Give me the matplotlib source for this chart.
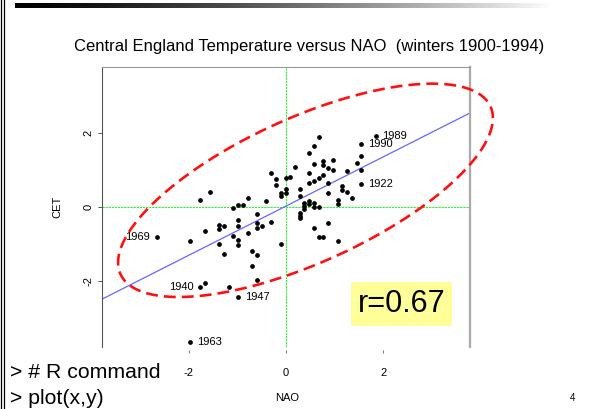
import numpy as np
import matplotlib
matplotlib.use("Agg")
import matplotlib.pyplot as plt

plt.rcParams['font.family'] = ['Liberation Sans', 'DejaVu Sans']

# winter NAO index and CET anomaly
nao = [-2.65, -1.97, -1.97, -1.76, -1.57, -1.67, -1.76, -1.67, -1.38, -1.28,
       -1.38, -1.38, -1.28, -1.18, -1.09, -0.99, -0.89, -1.09, -0.99, -0.99,
       -0.99, -0.99, -0.99, -0.79, -0.79, -0.70, -0.70, -0.60, -0.60, -0.60,
       -0.50, -0.60, -0.60, -0.41, -0.30, -0.30, -0.21, -0.21, -0.11, -0.11,
       -0.11, -0.01, -0.01, -0.01, 0.09, 0.19, 0.29, 0.29, 0.29, 0.29,
       0.29, 0.38, 0.38, 0.38, 0.48, 0.48, 0.48, 0.48, 0.48, 0.57,
       0.57, 0.57, 0.57, 0.57, 0.57, 0.67, 0.67, 0.67, 0.67, 0.76,
       0.76, 0.76, 0.76, 0.87, 0.87, 0.87, 0.87, 0.96, 0.96, 1.06,
       1.06, 1.06, 1.15, 1.15, 1.26, 1.26, 1.35, 1.45, 1.54, 1.54,
       1.54, 1.54, 1.84]
cet = [-0.80, -0.91, -3.64, 0.20, 0.41, -0.66, -2.15, -2.06, -0.49, -0.52,
       -0.60, -0.99, -1.27, -2.15, -0.03, 0.06, 0.06, -0.78, -0.36, -0.52,
       -0.89, -1.02, -2.43, 0.24, -0.69, -1.18, -1.59, -0.19, -0.44, -0.56,
       -0.50, -1.29, -1.98, 0.17, 0.93, -0.41, 0.76, 0.59, 0.39, 0.30,
       -1.00, 0.78, 0.49, 0.38, 0.82, 1.07, 0.48, 0.30, -0.17, -0.24,
       -0.30, 0.12, 0.03, -0.06, 1.47, 0.92, 0.66, 0.16, 0.07, 1.64,
       1.16, 0.70, 0.12, 0.01, -0.57, 1.88, 0.79, 0.01, -0.81, 1.24,
       1.13, 0.86, -0.80, 1.04, 0.64, 0.38, -0.44, 1.27, 1.00, 0.20,
       0.08, -0.91, 0.57, 0.47, 0.96, 0.41, 0.23, 1.19, 1.71, 1.37,
       0.99, 0.62, 1.93]

# labelled winters: (year, nao, cet, side)
labelled = [("1969", -2.65, -0.80, "left"), ("1963", -1.97, -3.64, "right"),
            ("1940", -1.76, -2.15, "left"), ("1947", -0.99, -2.43, "right"),
            ("1989", 1.84, 1.93, "right"), ("1990", 1.54, 1.71, "right"),
            ("1922", 1.54, 0.62, "right")]

fit_intercept = 0.025
fit_slope = 0.665

# hand drawn ellipse: centre and two conjugate half-diameters
ell_centre = (0.4, 0.45)
ell_u = (3.85, 1.95)
ell_v = (0.0, 2.12)

fig = plt.figure(figsize=(6.06, 4.09), dpi=100)

# slide decorations
bar = fig.add_axes([15 / 606, 1 - 8 / 409, 540 / 606, 5 / 409])
grad = np.linspace(0, 1, 256) ** 1.3
bar.imshow(grad[np.newaxis, :], aspect='auto', cmap='gray', vmin=0, vmax=1)
bar.axis('off')
for xx in (1.2, 4.0):
    fig.add_artist(plt.Line2D([xx / 606, xx / 606], [0, 1], color='black', lw=0.9))

ax = fig.add_axes([102 / 606, 1 - 347 / 409, 368 / 606, 280 / 409])
ax.set_xlim(-3.78, 3.78)
ax.set_ylim(-3.78, 3.78)

ax.axvline(0, color='#33ee33', lw=0.8, ls=(0, (2, 0.8)), zorder=1)
ax.axhline(0, color='#33ee33', lw=0.8, ls=(0, (2, 0.8)), zorder=1)

xs = np.array(ax.get_xlim())
ax.plot(xs, fit_intercept + fit_slope * xs, color='#6666ff', lw=0.9, zorder=2)

ax.plot(nao, cet, 'o', color='black', ms=2.4, zorder=3)

for year, x, y, side in labelled:
    if side == "left":
        ax.annotate(year, (x, y), xytext=(-5, 0), textcoords='offset points',
                    ha='right', va='center', fontsize=8)
    else:
        ax.annotate(year, (x, y), xytext=(5, 0), textcoords='offset points',
                    ha='left', va='center', fontsize=8)

t = np.linspace(0, 2 * np.pi, 400)
ex = ell_centre[0] + ell_u[0] * np.cos(t) + ell_v[0] * np.sin(t)
ey = ell_centre[1] + ell_u[1] * np.cos(t) + ell_v[1] * np.sin(t)
ax.plot(ex, ey, color='#ff1010', lw=1.9, ls=(0, (4.5, 2.3)), clip_on=False, zorder=4)

ax.spines['bottom'].set_visible(False)
ax.spines['bottom'].set_position(('outward', 2))
ax.spines['left'].set_color('#555555')
ax.spines['top'].set_color('#999999')
ax.spines['right'].set_color('#aaaaaa')
ax.spines['right'].set_linewidth(1.6)
for s in ('left', 'top'):
    ax.spines[s].set_linewidth(0.8)

ax.set_xticks([-2, 0, 2])
ax.set_yticks([-2, 0, 2])
ax.set_xticklabels(['-2', '0', '2'])
ax.set_yticklabels(['-2', '0', '2'], rotation=90, va='center')
ax.tick_params(axis='x', length=2, width=0.7, color='#777777', pad=11, labelsize=8)
ax.tick_params(axis='y', length=3, width=0.7, color='#555555', pad=3, labelsize=8)

ax.text(2.37, -2.62, "r=0.67", fontsize=22, ha='center', va='center',
        bbox=dict(boxstyle='square,pad=0.22', fc='#ffff99', ec='none'))

fig.text(309 / 606, 1 - 47 / 409, "Central England Temperature versus NAO  (winters 1900-1994)",
         ha='center', va='center', fontsize=12)
fig.text(57 / 606, 1 - 207 / 409, "CET", rotation=90, ha='center', va='center', fontsize=8)
fig.text(287 / 606, 1 - 398 / 409, "NAO", ha='center', va='center', fontsize=8)
fig.text(10 / 606, 1 - 372 / 409, "> # R command", ha='left', va='center', fontsize=15.3)
fig.text(10 / 606, 1 - 398 / 409, "> plot(x,y)", ha='left', va='center', fontsize=15.3)
fig.text(572 / 606, 1 - 398 / 409, "4", ha='center', va='center', fontsize=7)

fig.savefig("out.png", dpi=100)
